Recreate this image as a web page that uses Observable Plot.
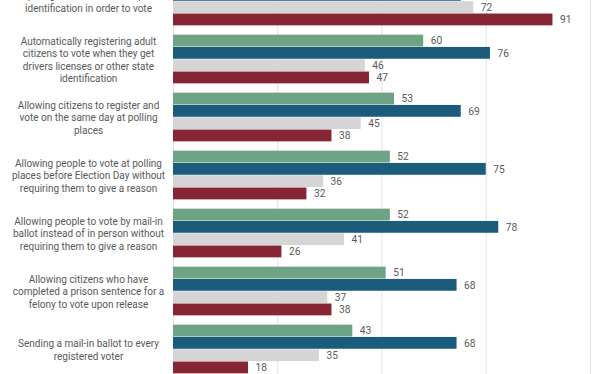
<!DOCTYPE html>
<html><head><meta charset="utf-8">
<script src="https://cdn.jsdelivr.net/npm/d3@7"></script>
<script src="https://cdn.jsdelivr.net/npm/@observablehq/plot@0.6"></script>
<style>
html,body{margin:0;padding:0;background:#fff;}
#wrap{width:612px;height:374px;overflow:hidden;position:relative;}
#wrap svg{position:absolute;left:0;top:-28px;}
</style></head><body><div id="wrap"></div>
<script>
const questions = [
  "Requiring all voters to show photo\nidentification in order to vote",
  "Automatically registering adult\ncitizens to vote when they get\ndrivers licenses or other state\nidentification",
  "Allowing citizens to register and\nvote on the same day at polling\nplaces",
  "Allowing people to vote at polling\nplaces before Election Day without\nrequiring them to give a reason",
  "Allowing people to vote by mail-in\nballot instead of in person without\nrequiring them to give a reason",
  "Allowing citizens who have\ncompleted a prison sentence for a\nfelony to vote upon release",
  "Sending a mail-in ballot to every\nregistered voter"
];
const seriesNames = ["Total", "Democrats", "Independents", "Republicans"];
const totalValues = [80, 60, 53, 52, 52, 51, 43];
const demValues   = [69, 76, 69, 75, 78, 68, 68];
const indValues   = [72, 46, 45, 36, 41, 37, 35];
const repValues   = [91, 47, 38, 32, 26, 38, 18];
const colors = ["#6fa385", "#1b5b7b", "#d5d5d5", "#862634"];
const gridTicks = [0, 25, 50, 75, 100];

const valueSets = [totalValues, demValues, indValues, repValues];
const rows = [];
questions.forEach((q, i) => {
  seriesNames.forEach((s, j) => rows.push({question: q, series: s, value: valueSets[j][i]}));
});

const chart = Plot.plot({
  width: 612,
  height: 406,
  marginTop: 0,
  marginBottom: 0,
  marginLeft: 173,
  marginRight: 22,
  style: {fontFamily: "Roboto, 'Noto Sans', sans-serif", background: "#fff"},
  x: {domain: [0, 100], axis: null},
  y: {domain: seriesNames, axis: null, paddingInner: 0.04, paddingOuter: 0.378, round: false},
  fy: {domain: questions, axis: null, padding: 0, round: false},
  color: {domain: seriesNames, range: colors},
  facet: {data: rows, y: "question"},
  marks: [
    Plot.ruleX(gridTicks, {stroke: "#e2e2e2", strokeWidth: 1}),
    Plot.barX(rows, {x: "value", y: "series", fill: "series"}),
    Plot.text(rows, {x: "value", y: "series", text: d => String(d.value), dx: 7, textAnchor: "start", fill: "#595959", fontSize: 10.2}),
    Plot.text(rows, {filter: d => d.series === seriesNames[0], text: "question", frameAnchor: "left", dx: -85, textAnchor: "middle", lineAnchor: "middle", lineHeight: 1.23, fill: "#595959", fontSize: 10})
  ]
});
document.getElementById("wrap").appendChild(chart);
</script>
</body></html>
